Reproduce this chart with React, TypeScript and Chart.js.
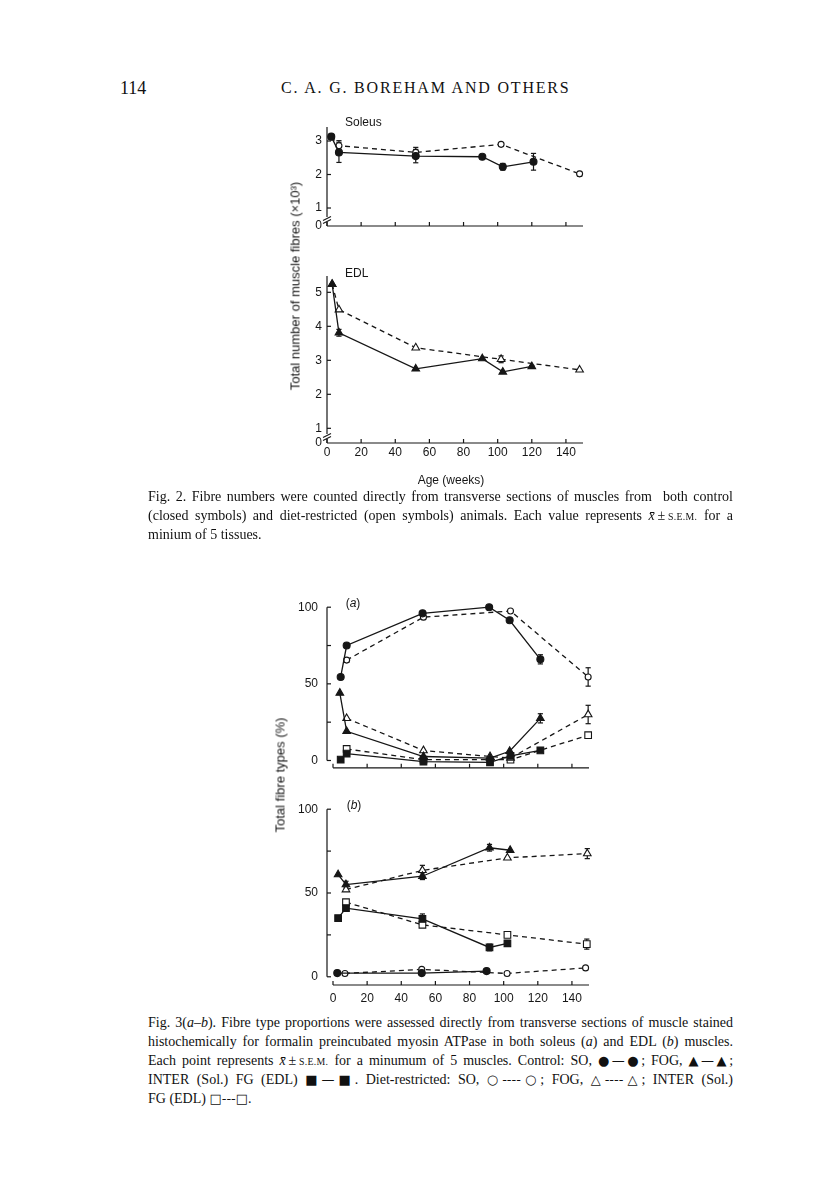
import React, { useEffect, useRef } from "react";
import { Chart, registerables } from "chart.js";

Chart.register(...registerables);

// ---------------- data ----------------
const ageTicks = [0, 20, 40, 60, 80, 100, 120, 140];
const ageTickLabels = ["0", "20", "40", "60", "80", "100", "120", "140"];
const fig2SoleusYTicks = [0, 1, 2, 3];
const fig2SoleusYLabels = ["0", "1", "2", "3"];
const fig2EdlYTicks = [0, 1, 2, 3, 4, 5];
const fig2EdlYLabels = ["0", "1", "2", "3", "4", "5"];
const fig3YTicks = [0, 25, 50, 75, 100];
const fig3YLabels = ["0", "", "50", "", "100"];

// Fig. 2 – soleus fibre number (x10^3)
const solCtrlWeeks = [2.5, 7, 52, 91, 103, 121];
const solCtrlFibres = [3.13, 2.66, 2.55, 2.53, 2.23, 2.38];
const solCtrlSem = [0, 0.3, 0.2, 0, 0.1, 0.25];
const solDietWeeks = [2.5, 7, 52, 102, 148];
const solDietFibres = [3.13, 2.86, 2.66, 2.9, 2.02];
const solDietSem = [0, 0.15, 0.15, 0, 0.07];

// Fig. 2 – EDL fibre number (x10^3)
const edlCtrlWeeks = [3, 7, 52, 91, 103, 120];
const edlCtrlFibres = [5.24, 3.81, 2.75, 3.05, 2.66, 2.82];
const edlCtrlSem = [0, 0.1, 0, 0, 0, 0.03];
const edlDietWeeks = [3, 7, 52, 102, 148];
const edlDietFibres = [5.24, 4.49, 3.37, 3.03, 2.72];
const edlDietSem = [0, 0, 0, 0.1, 0];

// Fig. 3(a) – soleus fibre types (%)
const aSoCtrlWeeks = [4.5, 8, 52.5, 91.5, 103.5, 121.5];
const aSoCtrl = [54.5, 75, 96, 100, 91.5, 66];
const aSoCtrlSem = [0, 0, 0, 0, 0, 3];
const aSoDietWeeks = [8, 53, 104, 149.5];
const aSoDiet = [65.5, 93.5, 97.5, 54.5];
const aSoDietSem = [1.5, 1.5, 0, 6];
const aFogCtrlWeeks = [4, 8, 53, 92, 103.5, 121.5];
const aFogCtrl = [44, 19, 2.6, 1.6, 6, 27.5];
const aFogCtrlSem = [0, 0, 0, 0, 0, 3];
const aFogDietWeeks = [8, 53, 92, 104, 149.5];
const aFogDiet = [27.5, 6.5, 2.6, 1.6, 30];
const aFogDietSem = [0, 0, 0, 0, 6];
const aInterCtrlWeeks = [4.5, 8, 53, 92, 104, 121.5];
const aInterCtrl = [0.6, 4.5, -0.8, -1.2, 3, 6.6];
const aInterCtrlSem = [0, 0, 0, 0, 0, 0];
const aInterDietWeeks = [8, 53, 104, 149.5];
const aInterDiet = [7.5, 0.5, 0.5, 16.5];
const aInterDietSem = [1.5, 0, 0, 1.5];

// Fig. 3(b) – EDL fibre types (%)
const bFogCtrlWeeks = [3, 7.6, 52.4, 91.7, 103.8];
const bFogCtrl = [61, 55, 60, 77, 75.5];
const bFogCtrlSem = [0, 2, 2, 2, 0];
const bFogDietWeeks = [7.6, 52.4, 102.2, 149];
const bFogDiet = [52, 63.5, 71, 73.5];
const bFogDietSem = [0, 3, 0, 3];
const bFgCtrlWeeks = [3, 7.6, 52.4, 91.7, 102.2];
const bFgCtrl = [35, 41, 34.5, 17.5, 20];
const bFgCtrlSem = [0, 2, 3, 2, 0];
const bFgDietWeeks = [7.6, 52.4, 102.2, 148.7];
const bFgDiet = [44.5, 31, 25, 19.5];
const bFgDietSem = [0, 0, 0, 3];
const bSoCtrlWeeks = [2.5, 52, 90];
const bSoCtrl = [2.2, 2.2, 3.4];
const bSoCtrlSem = [0, 0, 0];
const bSoDietWeeks = [7, 52, 102, 148];
const bSoDiet = [2, 4.4, 2, 5.3];
const bSoDietSem = [0, 0, 0, 0];

// ---------------- styling helpers ----------------
const INK = "#161616";
const SANS = '"Liberation Sans", Arial, Helvetica, sans-serif';
const SERIF = '"Liberation Serif", "Times New Roman", serif';

type Marker = "circle" | "triangle" | "rect";

function series(
  weeks: number[],
  vals: number[],
  sem: number[],
  marker: Marker,
  filled: boolean,
  dashed: boolean
) {
  const r =
    marker === "circle" ? (filled ? 3.5 : 3.0) : marker === "triangle" ? 4.4 : 4.7;
  return {
    data: weeks.map((w, i) => ({ x: w, y: vals[i] })),
    sem,
    showLine: true,
    borderColor: INK,
    borderWidth: 1.3,
    borderDash: dashed ? [5, 4] : [],
    pointStyle: marker,
    pointRadius: r,
    pointHoverRadius: r,
    pointBackgroundColor: filled ? INK : "#ffffff",
    pointBorderColor: INK,
    pointBorderWidth: 1.1,
    fill: false,
    tension: 0,
    clip: false,
  };
}

const paperPlugin = {
  id: "paper",
  beforeDatasetsDraw(chart: any) {
    const cfg = chart.options.plugins.paper;
    if (!cfg) return;
    const { ctx, chartArea: a } = chart;
    const xs = chart.scales.x;
    const ys = chart.scales.y;
    const line = (x1: number, y1: number, x2: number, y2: number) => {
      ctx.beginPath();
      ctx.moveTo(x1, y1);
      ctx.lineTo(x2, y2);
      ctx.stroke();
    };
    ctx.save();
    ctx.strokeStyle = INK;
    ctx.lineWidth = 1.2;
    ctx.setLineDash([]);
    const ax = a.left - cfg.yAxisGap;
    const yTop = cfg.yLineTo != null ? ys.getPixelForValue(cfg.yLineTo) : a.top;
    const yBot = cfg.yLineFrom != null ? ys.getPixelForValue(cfg.yLineFrom) : a.bottom;
    line(ax, yTop, ax, yBot);
    line(a.left, a.bottom, a.right, a.bottom);
    cfg.xTickMarks.forEach((v: number) => {
      const px = xs.getPixelForValue(v);
      line(px, a.bottom, px, a.bottom - cfg.tickLen);
    });
    cfg.yTickMarks.forEach((v: number) => {
      const py = ys.getPixelForValue(v);
      line(ax, py, ax + cfg.tickLen, py);
    });
    if (cfg.axisBreak) {
      const by = a.bottom - 6;
      ctx.fillStyle = "#ffffff";
      ctx.fillRect(ax - 1.5, by - 3, 3, 5);
      line(ax - 4, by + 0.5, ax + 4, by - 3.5);
      line(ax - 4, by + 3.5, ax + 4, by - 0.5);
    }
    // error bars (x ± S.E.M.)
    chart.data.datasets.forEach((ds: any) => {
      const errs: number[] | undefined = ds.sem;
      if (!errs) return;
      ds.data.forEach((p: any, i: number) => {
        const e = errs[i];
        if (!e) return;
        const px = xs.getPixelForValue(p.x);
        const t = ys.getPixelForValue(p.y + e);
        const b = ys.getPixelForValue(p.y - e);
        line(px, t, px, b);
        line(px - 2.6, t, px + 2.6, t);
        line(px - 2.6, b, px + 2.6, b);
      });
    });
    ctx.restore();
  },
};

type PanelSpec = {
  left: number;
  top: number;
  width: number;
  height: number;
  area: { left: number; top: number; right: number; bottom: number };
  yMin: number;
  yMax: number;
  yTickValues: number[];
  yTickLabels: string[];
  yLabelPad: number;
  showXLabels: boolean;
  xLabelPad: number;
  yAxisGap: number;
  yLineFrom: number | null;
  yLineTo: number | null;
  yTickMarks: number[];
  axisBreak: boolean;
  datasets: any[];
};

function buildConfig(s: PanelSpec): any {
  return {
    type: "line",
    data: { datasets: s.datasets },
    plugins: [paperPlugin],
    options: {
      animation: false,
      responsive: false,
      devicePixelRatio: 1,
      events: [],
      layout: {
        padding: {
          left: 0,
          top: s.area.top - s.top,
          right: s.left + s.width - s.area.right,
          bottom: 0,
        },
      },
      plugins: {
        legend: { display: false },
        tooltip: { enabled: false },
        paper: {
          yAxisGap: s.yAxisGap,
          yLineFrom: s.yLineFrom,
          yLineTo: s.yLineTo,
          xTickMarks: ageTicks,
          yTickMarks: s.yTickMarks,
          tickLen: 4,
          axisBreak: s.axisBreak,
        },
      },
      scales: {
        x: {
          type: "linear",
          min: 0,
          max: 150,
          grid: { display: false, drawTicks: false },
          border: { display: false },
          afterBuildTicks: (sc: any) => {
            sc.ticks = ageTicks.map((v) => ({ value: v }));
          },
          afterFit: (sc: any) => {
            sc.height = s.top + s.height - s.area.bottom;
          },
          ticks: {
            display: s.showXLabels,
            autoSkip: false,
            maxRotation: 0,
            padding: s.xLabelPad,
            color: INK,
            font: { family: SANS, size: 12 },
            callback: (_v: any, i: number) => ageTickLabels[i],
          },
        },
        y: {
          type: "linear",
          min: s.yMin,
          max: s.yMax,
          grid: { display: false, drawTicks: false },
          border: { display: false },
          afterBuildTicks: (sc: any) => {
            sc.ticks = s.yTickValues.map((v) => ({
              value: s.axisBreak && v === 0 ? s.yMin : v,
            }));
          },
          afterFit: (sc: any) => {
            sc.width = s.area.left - s.left;
          },
          ticks: {
            autoSkip: false,
            padding: s.yLabelPad,
            color: INK,
            font: { family: SANS, size: 12 },
            callback: (_v: any, i: number) => s.yTickLabels[i],
          },
        },
      },
    },
  };
}

function ChartPanel({ spec }: { spec: PanelSpec }) {
  const ref = useRef<HTMLCanvasElement | null>(null);
  useEffect(() => {
    if (!ref.current) return;
    const chart = new Chart(ref.current, buildConfig(spec));
    return () => chart.destroy();
  }, []);
  return (
    <canvas
      ref={ref}
      width={spec.width}
      height={spec.height}
      style={{
        position: "absolute",
        left: spec.left,
        top: spec.top,
        width: spec.width,
        height: spec.height,
      }}
    />
  );
}

// ---------------- panels ----------------
const soleusPanel: PanelSpec = {
  left: 270,
  top: 110,
  width: 330,
  height: 130,
  area: { left: 327, top: 127, right: 583, bottom: 226 },
  yMin: 0.463,
  yMax: 3.418,
  yTickValues: fig2SoleusYTicks,
  yTickLabels: fig2SoleusYLabels,
  yLabelPad: 5,
  showXLabels: false,
  xLabelPad: 2,
  yAxisGap: 0,
  yLineFrom: null,
  yLineTo: null,
  yTickMarks: [1, 2, 3],
  axisBreak: true,
  datasets: [
    series(solCtrlWeeks, solCtrlFibres, solCtrlSem, "circle", true, false),
    series(solDietWeeks, solDietFibres, solDietSem, "circle", false, true),
  ],
};

const edlPanel: PanelSpec = {
  left: 270,
  top: 260,
  width: 330,
  height: 230,
  area: { left: 327, top: 276, right: 583, bottom: 443 },
  yMin: 0.568,
  yMax: 5.48,
  yTickValues: fig2EdlYTicks,
  yTickLabels: fig2EdlYLabels,
  yLabelPad: 5,
  showXLabels: true,
  xLabelPad: 2,
  yAxisGap: 0,
  yLineFrom: null,
  yLineTo: null,
  yTickMarks: [1, 2, 3, 4, 5],
  axisBreak: true,
  datasets: [
    series(edlCtrlWeeks, edlCtrlFibres, edlCtrlSem, "triangle", true, false),
    series(edlDietWeeks, edlDietFibres, edlDietSem, "triangle", false, true),
  ],
};

const fig3aPanel: PanelSpec = {
  left: 270,
  top: 585,
  width: 330,
  height: 205,
  area: { left: 333, top: 605, right: 589, bottom: 781 },
  yMin: -4.77,
  yMax: 100,
  yTickValues: fig3YTicks,
  yTickLabels: fig3YLabels,
  yLabelPad: 15,
  showXLabels: false,
  xLabelPad: 2,
  yAxisGap: 6,
  yLineFrom: 0,
  yLineTo: 100,
  yTickMarks: fig3YTicks,
  axisBreak: false,
  datasets: [
    series(aSoCtrlWeeks, aSoCtrl, aSoCtrlSem, "circle", true, false),
    series(aFogCtrlWeeks, aFogCtrl, aFogCtrlSem, "triangle", true, false),
    series(aInterCtrlWeeks, aInterCtrl, aInterCtrlSem, "rect", true, false),
    series(aSoDietWeeks, aSoDiet, aSoDietSem, "circle", false, true),
    series(aFogDietWeeks, aFogDiet, aFogDietSem, "triangle", false, true),
    series(aInterDietWeeks, aInterDiet, aInterDietSem, "rect", false, true),
  ],
};

const fig3bPanel: PanelSpec = {
  left: 270,
  top: 787,
  width: 330,
  height: 225,
  area: { left: 333, top: 807, right: 589, bottom: 985 },
  yMin: -4.9,
  yMax: 100,
  yTickValues: fig3YTicks,
  yTickLabels: fig3YLabels,
  yLabelPad: 15,
  showXLabels: true,
  xLabelPad: 6,
  yAxisGap: 6,
  yLineFrom: 0,
  yLineTo: 100,
  yTickMarks: fig3YTicks,
  axisBreak: false,
  datasets: [
    series(bFogCtrlWeeks, bFogCtrl, bFogCtrlSem, "triangle", true, false),
    series(bFgCtrlWeeks, bFgCtrl, bFgCtrlSem, "rect", true, false),
    series(bSoCtrlWeeks, bSoCtrl, bSoCtrlSem, "circle", true, false),
    series(bFogDietWeeks, bFogDiet, bFogDietSem, "triangle", false, true),
    series(bFgDietWeeks, bFgDiet, bFgDietSem, "rect", false, true),
    series(bSoDietWeeks, bSoDiet, bSoDietSem, "circle", false, true),
  ],
};

// ---------------- text helpers ----------------
function Label({
  x,
  y,
  size = 12,
  rotate = false,
  center = false,
  children,
}: {
  x: number;
  y: number;
  size?: number;
  rotate?: boolean;
  center?: boolean;
  children: React.ReactNode;
}) {
  const transform = rotate
    ? "translate(-50%, -50%) rotate(-90deg)"
    : center
    ? "translate(-50%, -50%)"
    : "translate(0, -50%)";
  return (
    <div
      style={{
        position: "absolute",
        left: x,
        top: y,
        transform,
        whiteSpace: "nowrap",
        fontFamily: SANS,
        fontSize: size,
        lineHeight: `${size + 2}px`,
        color: INK,
      }}
    >
      {children}
    </div>
  );
}

const SEM = () => (
  <span style={{ fontSize: "0.7em", letterSpacing: 0.3 }}>S.E.M.</span>
);
const XBar = () => <i>x̄</i>;
const Sym = ({ children }: { children: React.ReactNode }) => (
  <span style={{ fontFamily: '"DejaVu Sans", sans-serif', fontSize: 13 }}>{children}</span>
);

function Caption({
  left,
  top,
  width,
  lines,
}: {
  left: number;
  top: number;
  width: number;
  lines: React.ReactNode[];
}) {
  return (
    <div
      style={{
        position: "absolute",
        left,
        top,
        width,
        fontFamily: SERIF,
        fontSize: 14,
        lineHeight: "19px",
        color: "#111",
      }}
    >
      {lines.map((ln, i) => (
        <div
          key={i}
          style={{
            height: 19,
            textAlign: i === lines.length - 1 ? "left" : "justify",
            textAlignLast: i === lines.length - 1 ? "left" : "justify",
          }}
        >
          {ln}
        </div>
      ))}
    </div>
  );
}

const fig2CaptionLines: React.ReactNode[] = [
  <>Fig. 2. Fibre numbers were counted directly from transverse sections of muscles from&nbsp; both control</>,
  <>
    (closed symbols) and diet-restricted (open symbols) animals. Each value represents <XBar />
    &thinsp;±&thinsp;<SEM /> for a
  </>,
  <>minium of 5 tissues.</>,
];

const fig3CaptionLines: React.ReactNode[] = [
  <>
    Fig. 3(<i>a</i>–<i>b</i>). Fibre type proportions were assessed directly from transverse sections of muscle stained
  </>,
  <>
    histochemically for formalin preincubated myosin ATPase in both soleus (<i>a</i>) and EDL (<i>b</i>) muscles.
  </>,
  <>
    Each point represents <XBar />&thinsp;±&thinsp;<SEM /> for a minumum of 5 muscles. Control: SO, <Sym>●—●</Sym>; FOG, <Sym>▲—▲</Sym>;
  </>,
  <>
    INTER (Sol.) FG (EDL) <Sym>■—■</Sym>. Diet-restricted: SO, <Sym>○----○</Sym>; FOG, <Sym>△----△</Sym>; INTER (Sol.)
  </>,
  <>
    FG (EDL) <Sym>□---□</Sym>.
  </>,
];

export default function App() {
  return (
    <div
      style={{
        position: "absolute",
        left: 0,
        top: 0,
        width: 816,
        height: 1183,
        background: "#ffffff",
        overflow: "hidden",
      }}
    >
      {/* running head */}
      <div
        style={{
          position: "absolute",
          left: 120,
          top: 78,
          fontFamily: SERIF,
          fontSize: 18,
          lineHeight: "20px",
          color: "#111",
        }}
      >
        114
      </div>
      <div
        style={{
          position: "absolute",
          left: 281,
          top: 78,
          fontFamily: SERIF,
          fontSize: 16,
          lineHeight: "20px",
          letterSpacing: 1.8,
          color: "#111",
          whiteSpace: "nowrap",
        }}
      >
        C. A. G. BOREHAM AND OTHERS
      </div>

      {/* Fig. 2 */}
      <ChartPanel spec={soleusPanel} />
      <ChartPanel spec={edlPanel} />
      <Label x={345} y={122}>Soleus</Label>
      <Label x={345} y={273}>EDL</Label>
      <Label x={451} y={480} center>
        Age (weeks)
      </Label>
      <Label x={295} y={286} size={13} rotate>
        Total number of muscle fibres (×10³)
      </Label>
      <Caption left={148} top={487} width={585} lines={fig2CaptionLines} />

      {/* Fig. 3 */}
      <ChartPanel spec={fig3aPanel} />
      <ChartPanel spec={fig3bPanel} />
      <Label x={353} y={603} center>
        (<i>a</i>)
      </Label>
      <Label x={354} y={805} center>
        (<i>b</i>)
      </Label>
      <Label x={280} y={775} size={13} rotate>
        Total fibre types (%)
      </Label>
      <Caption left={148} top={1013} width={585} lines={fig3CaptionLines} />
    </div>
  );
}
